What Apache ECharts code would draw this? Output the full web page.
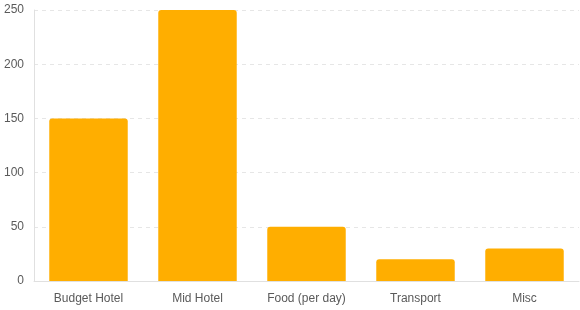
<!DOCTYPE html>
<html><head><meta charset="utf-8">
<script src="https://cdn.jsdelivr.net/npm/echarts@6/dist/echarts.min.js"></script>
<style>html,body{margin:0;padding:0;background:#fff}#c{width:580px;height:310px}</style>
</head><body><div id="c"></div>
<script>
const categories = ['Budget Hotel', 'Mid Hotel', 'Food (per day)', 'Transport', 'Misc'];
const values = [150, 250, 50, 20, 30];
const chart = echarts.init(document.getElementById('c'), null, {renderer: 'canvas'});
chart.setOption({
  animation: false,
  grid: {left: 34, right: 1, top: 10, bottom: 29, containLabel: false},
  xAxis: {
    type: 'category', data: categories,
    axisLine: {show: true, lineStyle: {color: '#e0e0e0'}},
    axisTick: {show: false},
    axisLabel: {color: '#5a5a5a', fontSize: 12, fontFamily: '"Liberation Sans", Arial, sans-serif', margin: 12}
  },
  yAxis: {
    type: 'value', min: 0, max: 250, interval: 50,
    axisLine: {show: true, lineStyle: {color: '#e0e0e0'}},
    axisTick: {show: false},
    axisLabel: {color: '#5a5a5a', fontSize: 12, fontFamily: '"Liberation Sans", Arial, sans-serif', margin: 10},
    splitLine: {show: true, lineStyle: {color: '#e6e6e6', type: [4, 4]}}
  },
  series: [{
    type: 'bar', data: values, barCategoryGap: '28%',
    itemStyle: {color: '#FFAE00', borderRadius: [3, 3, 0, 0]}
  }]
});
</script></body></html>
